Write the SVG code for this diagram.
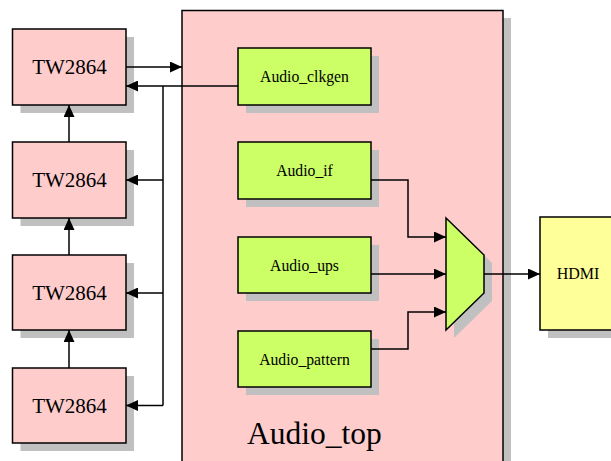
<svg xmlns="http://www.w3.org/2000/svg" width="611" height="461" viewBox="0 0 611 461">
<defs>
<style>
.sh{fill:#c0c0c0;stroke:none}
.pk{fill:#ffcccc;stroke:#000;stroke-width:1.5}
.gr{fill:#ccff66;stroke:#000;stroke-width:1.5}
.yl{fill:#ffff99;stroke:#000;stroke-width:1.5}
text{font-family:'Liberation Serif','Times New Roman',Times,'DejaVu Serif',serif;fill:#000;text-anchor:middle}
.tw{font-size:21px}
.s{font-size:15.7px}
.c{fill:none;stroke:#000;stroke-width:1.5}
</style>
<marker id="ah" markerUnits="userSpaceOnUse" markerWidth="12" markerHeight="11" refX="12" refY="5.5" orient="auto">
<path d="M0,0 L12,5.5 L0,11 z" fill="#000"/>
</marker>
</defs>
<rect width="611" height="461" fill="#fff"/>
<g id="audio_top">
<rect class="sh" x="190" y="18" width="321" height="450"/>
<rect class="pk" x="182" y="10.5" width="321" height="460"/>
<text x="314.5" y="444" font-size="31.5">Audio_top</text>
</g>
<g id="tw1">
<rect class="sh" x="20.5" y="37" width="113.5" height="76"/>
<rect class="pk" x="12.5" y="29" width="113.5" height="76"/>
<text class="tw" x="69.5" y="74">TW2864</text>
</g>
<g id="tw2">
<rect class="sh" x="20.5" y="150" width="113.5" height="76"/>
<rect class="pk" x="12.5" y="142" width="113.5" height="76"/>
<text class="tw" x="69.5" y="187">TW2864</text>
</g>
<g id="tw3">
<rect class="sh" x="20.5" y="263" width="113.5" height="75"/>
<rect class="pk" x="12.5" y="255" width="113.5" height="75"/>
<text class="tw" x="69.5" y="300">TW2864</text>
</g>
<g id="tw4">
<rect class="sh" x="20.5" y="376" width="113.5" height="75"/>
<rect class="pk" x="12.5" y="368" width="113.5" height="75"/>
<text class="tw" x="69.5" y="412.5">TW2864</text>
</g>
<g id="audio_clkgen">
<rect class="sh" x="246" y="56" width="133" height="57"/>
<rect class="gr" x="238" y="48" width="133" height="57"/>
<text class="s" x="304.5" y="82">Audio_clkgen</text>
</g>
<g id="audio_if">
<rect class="sh" x="246" y="150" width="133" height="57"/>
<rect class="gr" x="238" y="142" width="133" height="57"/>
<text class="s" x="304.5" y="176">Audio_if</text>
</g>
<g id="audio_ups">
<rect class="sh" x="246" y="245" width="133" height="56"/>
<rect class="gr" x="238" y="237" width="133" height="56"/>
<text class="s" x="304.5" y="270.5">Audio_ups</text>
</g>
<g id="audio_pattern">
<rect class="sh" x="246" y="339" width="133" height="56"/>
<rect class="gr" x="238" y="331" width="133" height="56"/>
<text class="s" x="304.5" y="364.5">Audio_pattern</text>
</g>
<g id="mux">
<polygon class="sh" points="454,226 492,263 492,301 454,338"/>
<polygon class="gr" points="446,218 484,255 484,293 446,330"/>
</g>
<g id="hdmi">
<rect class="sh" x="548" y="225" width="80" height="113"/>
<rect class="yl" x="540" y="217" width="80" height="113"/>
<text x="578" y="279" font-size="16">HDMI</text>
</g>
<g id="connectors">
<path class="c" d="M126,67 H182" marker-end="url(#ah)"/>
<path class="c" d="M238,86 H126" marker-end="url(#ah)"/>
<path class="c" d="M163,86 V405.5"/>
<path class="c" d="M163,180 H126" marker-end="url(#ah)"/>
<path class="c" d="M163,293 H126" marker-end="url(#ah)"/>
<path class="c" d="M163,405.5 H126" marker-end="url(#ah)"/>
<path class="c" d="M69,142 V105" marker-end="url(#ah)"/>
<path class="c" d="M69,255 V218" marker-end="url(#ah)"/>
<path class="c" d="M69,368 V330" marker-end="url(#ah)"/>
<path class="c" d="M371,180 H408 V237 H446" marker-end="url(#ah)"/>
<path class="c" d="M371,274 H446" marker-end="url(#ah)"/>
<path class="c" d="M371,349 H408 V312 H446" marker-end="url(#ah)"/>
<path class="c" d="M484,274 H540" marker-end="url(#ah)"/>
</g>
</svg>
